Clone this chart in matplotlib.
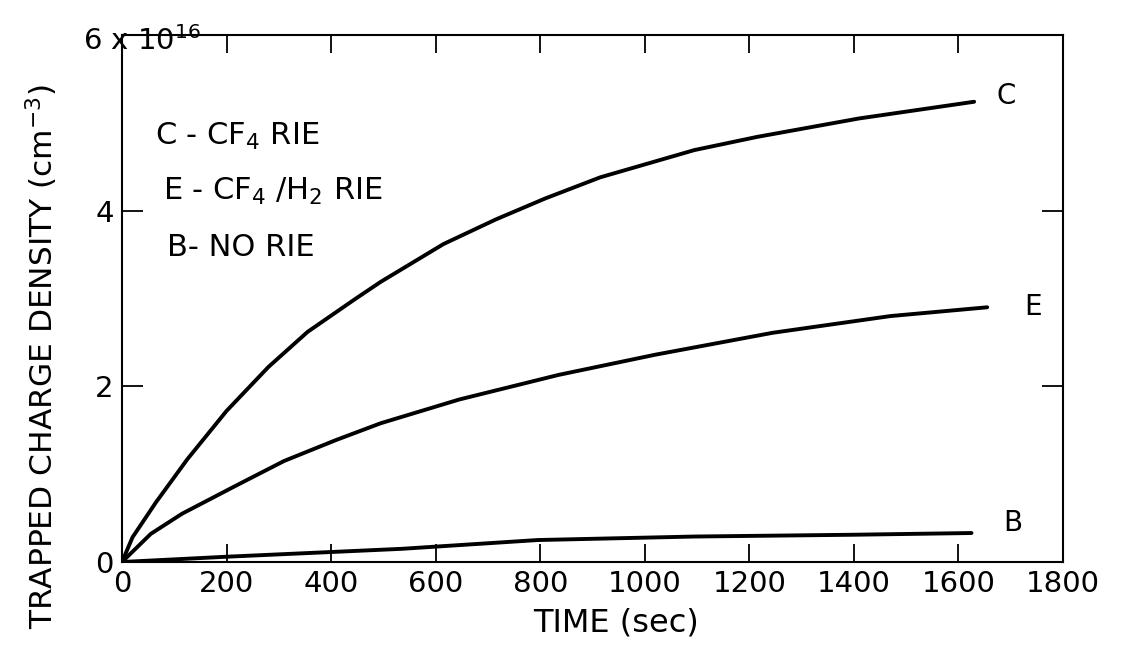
import matplotlib
matplotlib.use('Agg')
import matplotlib.pyplot as plt

plt.rcParams['font.family'] = 'DejaVu Sans'
plt.rcParams['mathtext.default'] = 'regular'

# trapped charge density, units of 1e16 cm^-3, vs time (s)
t_c = [0, 20, 65, 125, 200, 280, 355, 445, 495, 615, 715, 810, 915, 1095, 1215, 1410, 1630]
n_c = [0, 0.28, 0.68, 1.17, 1.72, 2.22, 2.62, 2.99, 3.19, 3.62, 3.90, 4.14, 4.38, 4.69, 4.84, 5.05, 5.24]

t_e = [0, 55, 115, 215, 310, 410, 495, 645, 835, 1020, 1245, 1470, 1655]
n_e = [0, 0.32, 0.55, 0.86, 1.15, 1.39, 1.58, 1.85, 2.13, 2.36, 2.61, 2.80, 2.90]

t_b = [0, 200, 535, 795, 1095, 1395, 1625]
n_b = [0, 0.06, 0.15, 0.25, 0.29, 0.31, 0.33]

curve_names = ['C', 'E', 'B']
key_lines = [r'C - CF$_4$ RIE', r'E - CF$_4$ /H$_2$ RIE', r'B- NO RIE']

xticks = [0, 200, 400, 600, 800, 1000, 1200, 1400, 1600, 1800]
yticks = [0, 2, 4, 6]
ytick_labels = ['0', '2', '4', '']

fig = plt.figure(figsize=(11.24, 6.47), dpi=100)
ax = fig.add_axes([122 / 1124, 1 - 562 / 647, (1063 - 122) / 1124, (562 - 35) / 647])

for t, n in [(t_c, n_c), (t_e, n_e), (t_b, n_b)]:
    ax.plot(t, n, color='black', lw=2.8, solid_joinstyle='round', solid_capstyle='round')

# curve tags at the right-hand ends
ax.text(1692, 5.31, curve_names[0], fontsize=20, ha='center', va='center')
ax.text(1742, 2.90, curve_names[1], fontsize=20, ha='center', va='center')
ax.text(1704, 0.44, curve_names[2], fontsize=20, ha='center', va='center')

# key in the upper left
ax.text(63, 4.85, key_lines[0], fontsize=22, ha='left', va='center')
ax.text(78, 4.22, key_lines[1], fontsize=22, ha='left', va='center')
ax.text(86, 3.58, key_lines[2], fontsize=22, ha='left', va='center')

ax.set_xlim(0, 1800)
ax.set_ylim(0, 6)
ax.set_xticks(xticks)
ax.set_xticklabels([str(v) for v in xticks])
ax.set_yticks(yticks)
ax.set_yticklabels(ytick_labels)
ax.text(-75, 5.93, r'6 x 10$^{16}$', fontsize=21, ha='left', va='center', clip_on=False)

ax.tick_params(axis='x', direction='in', top=True, length=13, width=1.3, pad=6, labelsize=21)
ax.tick_params(axis='y', direction='in', right=True, length=15, width=1.3, pad=6, labelsize=21)
for s in ax.spines.values():
    s.set_linewidth(1.5)

fig.text(616 / 1124, 1 - 623 / 647, 'TIME (sec)', fontsize=23, ha='center', va='center')
fig.text(42 / 1124, 1 - 356 / 647, r'TRAPPED CHARGE DENSITY (cm$^{-3}$)', fontsize=22.5,
         rotation=90, ha='center', va='center')

fig.savefig('out.png', dpi=100, facecolor='white')
